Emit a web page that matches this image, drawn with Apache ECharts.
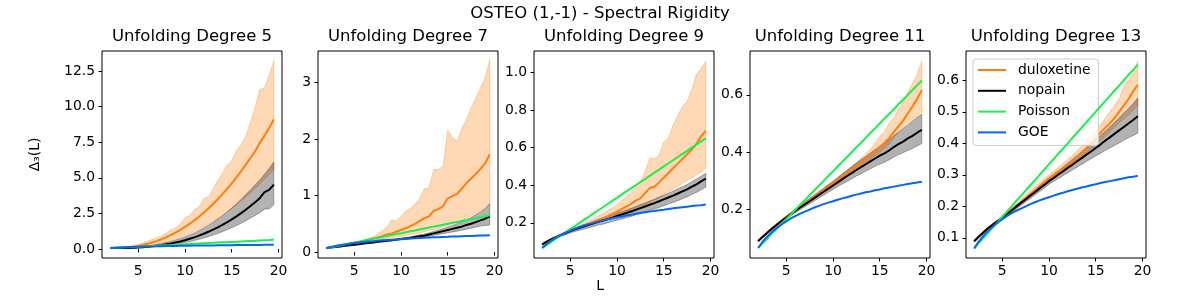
<!DOCTYPE html>
<html>
<head>
<meta charset="utf-8">
<script src="https://cdn.jsdelivr.net/npm/echarts@6/dist/echarts.min.js"></script>
<style>
  html, body { margin: 0; padding: 0; background: #fff; }
  #main { width: 1200px; height: 300px; }
</style>
</head>
<body>
<div id="main"></div>
<script>
// window length L
var L = [2, 2.5, 3, 3.5, 4, 4.5, 5, 5.5, 6, 6.5, 7, 7.5, 8, 8.5, 9, 9.5, 10, 10.5,
  11, 11.5, 12, 12.5, 13, 13.5, 14, 14.5, 15, 15.5, 16, 16.5, 17, 17.5, 18, 18.5, 19, 19.5];

// reference curves (same in every panel)
var poisson = [0.067, 0.083, 0.1, 0.117, 0.133, 0.15, 0.167, 0.183, 0.2, 0.217, 0.233, 0.25,
  0.267, 0.283, 0.3, 0.317, 0.333, 0.35, 0.367, 0.383, 0.4, 0.417, 0.433, 0.45,
  0.467, 0.483, 0.5, 0.517, 0.533, 0.55, 0.567, 0.583, 0.6, 0.617, 0.633, 0.65];
var goe = [0.066, 0.089, 0.107, 0.123, 0.136, 0.148, 0.159, 0.169, 0.178, 0.186, 0.193, 0.2,
  0.207, 0.213, 0.219, 0.224, 0.229, 0.234, 0.239, 0.243, 0.248, 0.252, 0.256, 0.26,
  0.263, 0.267, 0.27, 0.274, 0.277, 0.28, 0.283, 0.286, 0.289, 0.292, 0.294, 0.297];

// unfolding degree 5
var dulox5 = [0.07, 0.07, 0.08, 0.10, 0.13, 0.17, 0.22, 0.29, 0.37, 0.46, 0.57, 0.69, 0.83, 0.99, 1.16, 1.35, 1.55, 1.77,
  2.01, 2.27, 2.55, 2.84, 3.16, 3.49, 3.85, 4.22, 4.61, 5.03, 5.46, 5.92, 6.39, 6.85, 7.45, 7.95, 8.5, 9.1];
var duloxHi5 = [0.08, 0.09, 0.11, 0.14, 0.19, 0.25, 0.33, 0.42, 0.55, 0.68, 0.8, 0.92, 1.1, 1.35, 1.5, 1.75, 2.2, 2.35,
  2.75, 2.95, 3.55, 3.65, 4.2, 4.8, 5.3, 5.9, 6.2, 6.9, 7.3, 7.9, 8.9, 9.9, 11.2, 11.3, 12.2, 13.2];
var duloxLo5 = [0.06, 0.06, 0.07, 0.08, 0.10, 0.12, 0.15, 0.19, 0.24, 0.29, 0.36, 0.43, 0.52, 0.61, 0.72, 0.83, 0.96, 1.09,
  1.24, 1.40, 1.57, 1.75, 1.95, 2.15, 2.37, 2.60, 2.84, 3.10, 3.37, 3.65, 3.95, 4.25, 4.57, 4.90, 5.20, 5.55];
var nopain5 = [0.07, 0.07, 0.07, 0.08, 0.08, 0.09, 0.11, 0.13, 0.16, 0.19, 0.23, 0.27, 0.33, 0.39, 0.46, 0.53, 0.62, 0.72,
  0.82, 0.94, 1.07, 1.21, 1.36, 1.52, 1.69, 1.88, 2.08, 2.29, 2.52, 2.76, 3.02, 3.29, 3.57, 4.0, 4.15, 4.52];
var nopainHi5 = [0.08, 0.08, 0.08, 0.09, 0.10, 0.12, 0.15, 0.18, 0.22, 0.26, 0.32, 0.38, 0.46, 0.54, 0.64, 0.74, 0.86, 0.99,
  1.13, 1.30, 1.48, 1.67, 1.88, 2.10, 2.34, 2.60, 2.88, 3.17, 3.48, 3.82, 4.15, 4.5, 4.85, 5.25, 5.65, 6.1];
var nopainLo5 = [0.06, 0.06, 0.06, 0.07, 0.07, 0.08, 0.09, 0.10, 0.12, 0.14, 0.17, 0.2, 0.24, 0.28, 0.33, 0.38, 0.45, 0.52,
  0.59, 0.68, 0.77, 0.87, 0.98, 1.09, 1.22, 1.35, 1.5, 1.65, 1.81, 1.98, 2.17, 2.36, 2.55, 2.8, 2.82, 3.1];

// unfolding degree 7
var dulox7 = [0.07, 0.085, 0.10, 0.115, 0.13, 0.15, 0.165, 0.18, 0.2, 0.22, 0.24, 0.26, 0.28, 0.31, 0.33, 0.36, 0.39, 0.42,
  0.46, 0.5, 0.55, 0.6, 0.63, 0.73, 0.76, 0.81, 0.95, 0.99, 1.03, 1.12, 1.22, 1.3, 1.38, 1.47, 1.57, 1.73];
var duloxHi7 = [0.075, 0.09, 0.105, 0.12, 0.14, 0.155, 0.175, 0.19, 0.21, 0.24, 0.27, 0.32, 0.38, 0.44, 0.57, 0.55, 0.63, 0.72,
  0.77, 0.85, 0.95, 1.12, 1.14, 1.46, 1.46, 1.52, 2.15, 2.02, 1.96, 2.18, 2.35, 2.55, 2.72, 2.9, 3.08, 3.4];
var duloxLo7 = [0.065, 0.08, 0.095, 0.11, 0.12, 0.135, 0.15, 0.16, 0.175, 0.19, 0.2, 0.215, 0.23, 0.24, 0.255, 0.27, 0.28, 0.295,
  0.31, 0.325, 0.34, 0.36, 0.38, 0.4, 0.42, 0.45, 0.47, 0.5, 0.53, 0.56, 0.6, 0.64, 0.68, 0.73, 0.78, 0.85];
var nopain7 = [0.07, 0.08, 0.09, 0.10, 0.11, 0.12, 0.13, 0.14, 0.15, 0.16, 0.17, 0.18, 0.19, 0.2, 0.21, 0.22, 0.23, 0.24,
  0.25, 0.265, 0.28, 0.29, 0.31, 0.33, 0.35, 0.37, 0.39, 0.41, 0.43, 0.45, 0.48, 0.5, 0.53, 0.56, 0.59, 0.63];
var nopainHi7 = [0.075, 0.085, 0.095, 0.105, 0.115, 0.125, 0.135, 0.145, 0.155, 0.166, 0.177, 0.188, 0.2, 0.211, 0.222, 0.234, 0.246, 0.258,
  0.27, 0.287, 0.305, 0.318, 0.34, 0.365, 0.39, 0.415, 0.44, 0.47, 0.5, 0.53, 0.57, 0.61, 0.66, 0.71, 0.77, 0.85];
var nopainLo7 = [0.065, 0.075, 0.085, 0.095, 0.105, 0.115, 0.125, 0.135, 0.145, 0.154, 0.163, 0.172, 0.18, 0.19, 0.198, 0.207, 0.215, 0.223,
  0.232, 0.244, 0.256, 0.264, 0.28, 0.296, 0.31, 0.325, 0.34, 0.355, 0.37, 0.385, 0.405, 0.42, 0.44, 0.46, 0.47, 0.48];

// unfolding degree 9
var dulox9 = [0.085, 0.1, 0.113, 0.124, 0.135, 0.146, 0.157, 0.167, 0.177, 0.187, 0.196, 0.205, 0.215, 0.225, 0.236, 0.248, 0.26, 0.273,
  0.287, 0.3, 0.318, 0.33, 0.358, 0.385, 0.392, 0.415, 0.44, 0.465, 0.49, 0.515, 0.54, 0.565, 0.59, 0.62, 0.66, 0.69];
var duloxHi9 = [0.088, 0.102, 0.115, 0.127, 0.138, 0.149, 0.16, 0.172, 0.184, 0.196, 0.208, 0.222, 0.236, 0.25, 0.265, 0.28, 0.298, 0.318,
  0.34, 0.36, 0.395, 0.42, 0.47, 0.545, 0.54, 0.56, 0.63, 0.65, 0.72, 0.77, 0.82, 0.845, 0.91, 0.99, 1.02, 1.06];
var duloxLo9 = [0.082, 0.097, 0.11, 0.121, 0.132, 0.143, 0.153, 0.162, 0.171, 0.179, 0.187, 0.195, 0.203, 0.211, 0.219, 0.227, 0.236, 0.245,
  0.255, 0.264, 0.274, 0.285, 0.298, 0.31, 0.322, 0.335, 0.35, 0.365, 0.38, 0.395, 0.41, 0.425, 0.44, 0.455, 0.47, 0.49];
var nopain9 = [0.085, 0.1, 0.113, 0.124, 0.135, 0.146, 0.156, 0.165, 0.173, 0.181, 0.189, 0.197, 0.205, 0.212, 0.22, 0.228, 0.236, 0.244,
  0.252, 0.26, 0.269, 0.278, 0.287, 0.296, 0.305, 0.315, 0.325, 0.335, 0.345, 0.356, 0.367, 0.378, 0.392, 0.405, 0.42, 0.435];
var nopainHi9 = [0.088, 0.104, 0.118, 0.129, 0.141, 0.153, 0.163, 0.173, 0.182, 0.191, 0.199, 0.208, 0.217, 0.225, 0.233, 0.242, 0.251, 0.26,
  0.268, 0.277, 0.287, 0.297, 0.306, 0.316, 0.326, 0.337, 0.347, 0.358, 0.369, 0.381, 0.392, 0.404, 0.419, 0.433, 0.448, 0.464];
var nopainLo9 = [0.082, 0.096, 0.108, 0.117, 0.127, 0.137, 0.146, 0.154, 0.16, 0.167, 0.174, 0.181, 0.188, 0.193, 0.2, 0.207, 0.214, 0.221,
  0.227, 0.234, 0.242, 0.25, 0.258, 0.265, 0.273, 0.282, 0.291, 0.3, 0.308, 0.318, 0.328, 0.338, 0.351, 0.362, 0.376, 0.39];

// unfolding degree 11
var dulox11 = [0.09, 0.106, 0.121, 0.135, 0.149, 0.162, 0.174, 0.186, 0.198, 0.21, 0.221, 0.232, 0.244, 0.256, 0.268, 0.28, 0.292, 0.304,
  0.316, 0.328, 0.34, 0.352, 0.365, 0.378, 0.39, 0.404, 0.418, 0.432, 0.45, 0.47, 0.49, 0.51, 0.535, 0.56, 0.585, 0.617];
var duloxHi11 = [0.092, 0.108, 0.123, 0.137, 0.151, 0.164, 0.176, 0.189, 0.201, 0.213, 0.225, 0.237, 0.249, 0.261, 0.273, 0.286, 0.298, 0.311,
  0.324, 0.337, 0.35, 0.364, 0.379, 0.394, 0.41, 0.432, 0.455, 0.47, 0.5, 0.52, 0.55, 0.575, 0.61, 0.64, 0.67, 0.718];
var duloxLo11 = [0.088, 0.104, 0.119, 0.133, 0.146, 0.159, 0.172, 0.183, 0.195, 0.206, 0.217, 0.228, 0.239, 0.25, 0.26, 0.27, 0.28, 0.29,
  0.3, 0.315, 0.33, 0.34, 0.352, 0.364, 0.376, 0.388, 0.4, 0.413, 0.428, 0.45, 0.47, 0.485, 0.5, 0.51, 0.525, 0.54];
var nopain11 = [0.09, 0.105, 0.12, 0.134, 0.147, 0.16, 0.172, 0.184, 0.196, 0.207, 0.218, 0.229, 0.24, 0.251, 0.262, 0.273, 0.284, 0.295,
  0.306, 0.317, 0.327, 0.338, 0.348, 0.358, 0.368, 0.378, 0.388, 0.396, 0.406, 0.418, 0.428, 0.437, 0.448, 0.457, 0.468, 0.478];
var nopainHi11 = [0.092, 0.108, 0.123, 0.138, 0.151, 0.165, 0.177, 0.19, 0.203, 0.215, 0.227, 0.239, 0.251, 0.263, 0.275, 0.287, 0.299, 0.312,
  0.325, 0.337, 0.349, 0.362, 0.374, 0.385, 0.397, 0.409, 0.42, 0.431, 0.443, 0.458, 0.47, 0.482, 0.495, 0.507, 0.521, 0.533];
var nopainLo11 = [0.088, 0.103, 0.117, 0.131, 0.143, 0.156, 0.167, 0.179, 0.19, 0.2, 0.21, 0.22, 0.23, 0.24, 0.25, 0.26, 0.27, 0.28,
  0.289, 0.298, 0.307, 0.317, 0.325, 0.334, 0.342, 0.351, 0.358, 0.365, 0.373, 0.383, 0.391, 0.398, 0.406, 0.413, 0.422, 0.43];

// unfolding degree 13
var dulox13 = [0.089, 0.104, 0.118, 0.131, 0.142, 0.153, 0.163, 0.176, 0.189, 0.201, 0.213, 0.226, 0.239, 0.252, 0.264, 0.277, 0.29, 0.3,
  0.311, 0.321, 0.332, 0.343, 0.357, 0.371, 0.385, 0.401, 0.417, 0.433, 0.449, 0.463, 0.48, 0.5, 0.52, 0.54, 0.565, 0.586];
var duloxHi13 = [0.091, 0.106, 0.12, 0.133, 0.145, 0.156, 0.167, 0.181, 0.195, 0.208, 0.221, 0.235, 0.249, 0.262, 0.275, 0.288, 0.3, 0.312,
  0.324, 0.336, 0.349, 0.362, 0.377, 0.392, 0.407, 0.423, 0.44, 0.458, 0.478, 0.5, 0.52, 0.54, 0.58, 0.6, 0.625, 0.66];
var duloxLo13 = [0.087, 0.102, 0.116, 0.128, 0.139, 0.149, 0.159, 0.171, 0.183, 0.195, 0.207, 0.219, 0.232, 0.244, 0.256, 0.268, 0.28, 0.29,
  0.3, 0.31, 0.32, 0.33, 0.342, 0.354, 0.366, 0.38, 0.395, 0.408, 0.422, 0.436, 0.45, 0.465, 0.478, 0.49, 0.505, 0.52];
var nopain13 = [0.089, 0.104, 0.118, 0.131, 0.142, 0.153, 0.163, 0.175, 0.187, 0.199, 0.211, 0.222, 0.234, 0.245, 0.257, 0.268, 0.28, 0.29,
  0.301, 0.311, 0.322, 0.332, 0.343, 0.353, 0.364, 0.374, 0.385, 0.396, 0.408, 0.419, 0.43, 0.441, 0.452, 0.463, 0.474, 0.486];
var nopainHi13 = [0.091, 0.106, 0.12, 0.133, 0.145, 0.156, 0.167, 0.179, 0.191, 0.204, 0.216, 0.228, 0.24, 0.252, 0.264, 0.277, 0.29, 0.301,
  0.313, 0.325, 0.337, 0.349, 0.361, 0.373, 0.386, 0.398, 0.41, 0.424, 0.438, 0.452, 0.466, 0.48, 0.496, 0.51, 0.526, 0.544];
var nopainLo13 = [0.087, 0.102, 0.116, 0.128, 0.139, 0.149, 0.159, 0.17, 0.181, 0.192, 0.203, 0.214, 0.225, 0.236, 0.247, 0.258, 0.27, 0.279,
  0.288, 0.297, 0.306, 0.315, 0.324, 0.333, 0.342, 0.351, 0.36, 0.368, 0.377, 0.385, 0.393, 0.401, 0.41, 0.418, 0.425, 0.433];

var degrees = [5, 7, 9, 11, 13];
var xTicks = [5, 10, 15, 20];
var yTicks5 = [0, 2.5, 5, 7.5, 10, 12.5];
var yTicks7 = [0, 1, 2, 3];
var yTicks9 = [0.2, 0.4, 0.6, 0.8, 1.0];
var yTicks11 = [0.2, 0.4, 0.6];
var yTicks13 = [0.1, 0.2, 0.3, 0.4, 0.5, 0.6];

var panels = [
  { dulox: dulox5, dHi: duloxHi5, dLo: duloxLo5, nop: nopain5, nHi: nopainHi5, nLo: nopainLo5, ticks: yTicks5, min: -0.63, max: 13.9, dec: 1 },
  { dulox: dulox7, dHi: duloxHi7, dLo: duloxLo7, nop: nopain7, nHi: nopainHi7, nLo: nopainLo7, ticks: yTicks7, min: -0.105, max: 3.555, dec: 0 },
  { dulox: dulox9, dHi: duloxHi9, dLo: duloxLo9, nop: nopain9, nHi: nopainHi9, nLo: nopainLo9, ticks: yTicks9, min: 0.013, max: 1.114, dec: 1 },
  { dulox: dulox11, dHi: duloxHi11, dLo: duloxLo11, nop: nopain11, nHi: nopainHi11, nLo: nopainLo11, ticks: yTicks11, min: 0.031, max: 0.753, dec: 1 },
  { dulox: dulox13, dHi: duloxHi13, dLo: duloxLo13, nop: nopain13, nHi: nopainHi13, nLo: nopainLo13, ticks: yTicks13, min: 0.036, max: 0.693, dec: 1 }
];

var FONT = "DejaVu Sans";
var lefts = [102, 318, 534, 750, 966];
var ORANGE = "#ff7f0e", GREEN = "#1aef4e", BLUE = "#0566f5";

function pairs(arr) {
  return L.map(function (x, i) { return [x, arr[i]]; });
}

// shaded band between lo and hi, drawn as one polygon
function band(gi, lo, hi, color) {
  return {
    type: "custom",
    xAxisIndex: gi,
    yAxisIndex: gi,
    silent: true,
    z: 1,
    data: L.map(function (x, i) { return [x, lo[i], hi[i]]; }),
    encode: { x: 0, y: [1, 2] },
    renderItem: function (params, api) {
      if (params.dataIndex !== 0) return;
      var pts = [];
      for (var i = 0; i < L.length; i++) pts.push(api.coord([L[i], hi[i]]));
      for (var j = L.length - 1; j >= 0; j--) pts.push(api.coord([L[j], lo[j]]));
      return { type: "polygon", shape: { points: pts }, style: { fill: color, stroke: color, lineWidth: 1 } };
    }
  };
}

function line(gi, name, arr, color, z) {
  return {
    type: "line", name: name, xAxisIndex: gi, yAxisIndex: gi,
    data: pairs(arr), symbol: "none", z: z,
    lineStyle: { color: color, width: 2 }, itemStyle: { color: color },
    emphasis: { disabled: true }
  };
}

var grids = [], xAxes = [], yAxes = [], series = [];
var titles = [
  { text: "OSTEO (1,-1) - Spectral Rigidity", left: 600, top: 5, textAlign: "center", padding: 0,
    textStyle: { fontFamily: FONT, fontSize: 16.5, fontWeight: "normal", color: "#000" } },
  { text: "L", left: 600, top: 279, textAlign: "center", padding: 0,
    textStyle: { fontFamily: FONT, fontSize: 13.9, fontWeight: "normal", color: "#000" } }
];

panels.forEach(function (p, i) {
  grids.push({ left: lefts[i], top: 51, width: 180, height: 207, show: true,
    borderColor: "#000", borderWidth: 1, backgroundColor: "transparent", containLabel: false });
  titles.push({ text: "Unfolding Degree " + degrees[i], left: lefts[i] + 90, top: 28, textAlign: "center", padding: 0,
    textStyle: { fontFamily: FONT, fontSize: 16.5, fontWeight: "normal", color: "#000" } });
  xAxes.push({
    type: "value", gridIndex: i, min: 1.125, max: 20.375,
    axisLine: { show: false },
    splitLine: { show: false },
    axisTick: { show: true, customValues: xTicks, length: 3.5, lineStyle: { color: "#000", width: 1 } },
    axisLabel: { customValues: xTicks, margin: 6, color: "#000", fontFamily: FONT, fontSize: 13.9 }
  });
  var dec = p.dec;
  yAxes.push({
    type: "value", gridIndex: i, min: p.min, max: p.max,
    axisLine: { show: false },
    splitLine: { show: false },
    axisTick: { show: true, customValues: p.ticks, length: 3.5, lineStyle: { color: "#000", width: 1 } },
    axisLabel: { customValues: p.ticks, margin: 7, color: "#000", fontFamily: FONT, fontSize: 13.9,
      formatter: function (v) { return v.toFixed(dec); } },
    name: i === 0 ? "Δ₃(L)" : "",
    nameLocation: "middle", nameRotate: 90, nameGap: 60,
    nameTextStyle: { fontFamily: FONT, fontSize: 13.9, color: "#000" }
  });
  series.push(band(i, p.dLo, p.dHi, "rgba(255,127,14,0.3)"));
  series.push(band(i, p.nLo, p.nHi, "rgba(0,0,0,0.3)"));
  series.push(line(i, "duloxetine", p.dulox, ORANGE, 3));
  series.push(line(i, "nopain", p.nop, "#000", 4));
  series.push(line(i, "Poisson", poisson, GREEN, 5));
  series.push(line(i, "GOE", goe, BLUE, 6));
});

var chart = echarts.init(document.getElementById("main"), null, { renderer: "canvas" });
chart.setOption({
  animation: false,
  backgroundColor: "#fff",
  title: titles,
  grid: grids,
  xAxis: xAxes,
  yAxis: yAxes,
  legend: {
    data: ["duloxetine", "nopain", "Poisson", "GOE"],
    orient: "vertical",
    left: 973, top: 59,
    padding: [4, 8, 6, 5],
    itemGap: 6.8,
    itemWidth: 28, itemHeight: 2,
    icon: "rect",
    backgroundColor: "rgba(255,255,255,0.8)",
    borderColor: "#cccccc", borderWidth: 1, borderRadius: 3,
    textStyle: { fontFamily: FONT, fontSize: 13.9, color: "#000", lineHeight: 14, padding: [0, 0, 0, 7] }
  },
  series: series
});
</script>
</body>
</html>
